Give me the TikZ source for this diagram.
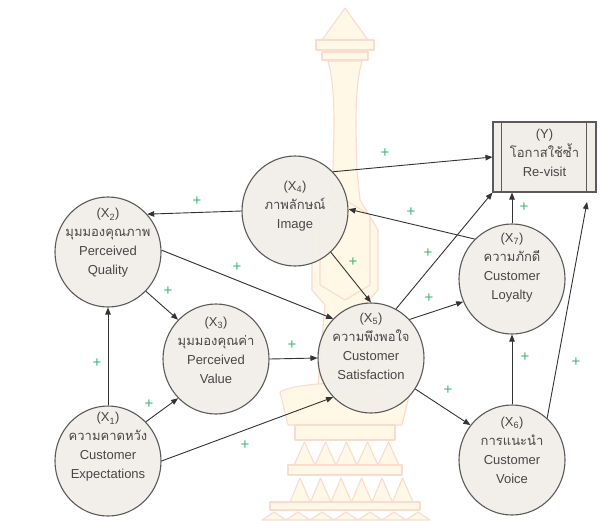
\documentclass[tikz,border=0pt]{standalone}
\usepackage{fontspec}
\setmainfont{Liberation Sans}
\newfontfamily\thaifont[Script=Thai]{Loma}
\usetikzlibrary{arrows.meta,shapes.geometric,calc}
\definecolor{nodefill}{HTML}{F1EEE9}
\definecolor{nodeline}{HTML}{5A5A5A}
\definecolor{txtcol}{HTML}{474747}
\definecolor{plusgreen}{HTML}{3CB878}
\definecolor{wmfill}{HTML}{FFF8E6}
\definecolor{wmline}{HTML}{FADBCF}
\begin{document}
\begin{tikzpicture}[x=1pt,y=-1pt,
  construct/.style={ellipse, draw=nodeline, fill=nodefill, fill opacity=0.9, line width=1.1pt,
    minimum width=106pt, minimum height=110pt, inner sep=0pt},
  lbl/.style={align=center, text=txtcol, inner sep=0pt, font=\fontsize{13}{19}\selectfont},
  conn/.style={draw=black!80, line width=0.9pt, -{Triangle[length=7pt,width=5.5pt]}},
  plus/.style={text=plusgreen, inner sep=0pt, font=\fontsize{15}{15}\selectfont},
  wm/.style={draw=wmline, fill=wmfill, line width=1.1pt, line join=round}
]
\useasboundingbox (0,0) rectangle (601,520);
\fill[white] (0,0) rectangle (601,520);

% watermark (faint tower)
\path[wm] (345,8) -- (368,40) -- (322,40) -- cycle;
\path[wm] (316,40) rectangle (374,50);
\path[wm] (322,52) rectangle (368,60);
\path[wm] (328,61) .. controls (336,90) and (334,130) .. (333,170) -- (330,200)
  -- (312,230) -- (312,290) -- (325,305) -- (318,385) -- (372,385) -- (365,305)
  -- (378,290) -- (378,230) -- (360,200) -- (357,170) .. controls (356,130) and (354,90) .. (362,61) -- cycle;
\path[wm] (320,215) -- (345,200) -- (370,215) -- (370,285) -- (345,300) -- (320,285) -- cycle;
\path[wm] (280,392) .. controls (300,380) and (390,380) .. (410,392) -- (402,425) -- (288,425) -- cycle;
\path[wm] (295,425) rectangle (395,440);
\foreach \i in {0,...,4} {
  \path[wm] ({294+21*\i},465) -- ({304.5+21*\i},442) -- ({315+21*\i},465) -- cycle;
}
\path[wm] (288,465) rectangle (402,475);
\foreach \i in {0,...,5} {
  \path[wm] ({290+20.5*\i},502) -- ({300+20.5*\i},478) -- ({310.5+20.5*\i},502) -- cycle;
}
\path[wm] (270,502) rectangle (420,510);
\foreach \i in {0,...,6} {
  \path[wm] ({262+24*\i},520) -- ({274+24*\i},512) -- ({286+24*\i},520) -- cycle;
}

% constructs
\node[construct] (x2) at (108,252) {};
\node[construct] (x3) at (216,359) {};
\node[construct] (x1) at (108,461) {};
\node[construct] (x4) at (295,211) {};
\node[construct] (x5) at (371,358) {};
\node[construct] (x7) at (512,279) {};
\node[construct] (x6) at (512,460) {};
\node[draw=nodeline, fill=nodefill, line width=1.1pt, minimum width=103pt, minimum height=70pt, inner sep=0pt] (y) at (544.5,157) {};
\draw[draw=nodeline, line width=1.1pt] ([xshift=9pt]y.north west) -- ([xshift=9pt]y.south west);
\draw[draw=nodeline, line width=1.1pt] ([xshift=-10pt]y.north east) -- ([xshift=-10pt]y.south east);

% labels
\node[lbl] (t2) at ([yshift=9pt]x2.center) {(X\textsubscript{2})\\{\thaifont มุมมองคุณภาพ}\\Perceived\\Quality};
\node[lbl] (t3) at ([yshift=9pt]x3.center) {(X\textsubscript{3})\\{\thaifont มุมมองคุณค่า}\\Perceived\\Value};
\node[lbl] (t1) at ([yshift=14pt]x1.center) {(X\textsubscript{1})\\{\thaifont ความคาดหวัง}\\Customer\\Expectations};
\node[lbl] (t4) at ([yshift=5pt]x4.center) {(X\textsubscript{4})\\{\thaifont ภาพลักษณ์}\\Image};
\node[lbl] (t5) at ([yshift=12pt]x5.center) {(X\textsubscript{5})\\{\thaifont ความพึงพอใจ}\\Customer\\Satisfaction};
\node[lbl] (t7) at ([yshift=11pt]x7.center) {(X\textsubscript{7})\\{\thaifont ความภักดี}\\Customer\\Loyalty};
\node[lbl] (t6) at ([yshift=10pt]x6.center) {(X\textsubscript{6})\\{\thaifont การแนะนำ}\\Customer\\Voice};
\node[lbl] (ty) at ([yshift=4pt]y.center) {(Y)\\{\thaifont โอกาสใช้ซ้ำ}\\Re-visit};

% connectors
\coordinate (yarrow) at (587,202);
\draw[conn] (x4.180) -- (x2.44);
\draw[conn] (x2.2) -- (x5.134);
\draw[conn] (x2.-46) -- (x3.134);
\draw[conn] (x1.north) -- (x2.south);
\draw[conn] (x1.46) -- (x3.-134);
\draw[conn] (x1.0) -- (x5.-134);
\draw[conn] (x3.0) -- (x5.180);
\draw[conn] (x4.-49) -- (x5.90);
\draw[conn] (x4.46) -- (y.west);
\draw[conn] (x7.133) -- (x4.2);
\draw[conn] (x5.63) -- (y.south west);
\draw[conn] (x5.45) -- (x7.205);
\draw[conn] (x7.north) -- (x7.north |- y.south);
\draw[conn] (x5.-35) -- (x6.140);
\draw[conn] (x6.north) -- (x7.south);
\draw[conn] (x6.50) -- (yarrow);

% plus signs
\foreach \px/\py [count=\k] in {197/201, 237/267, 168/291, 97/363, 149/404, 245/445, 292/345,
  353/262, 385/153, 411/212, 428/253, 429/298, 524/207, 448/390, 525/357, 576/362} {
  \node[plus] (p\k) at (\px,\py) {+};
}
\end{tikzpicture}
\end{document}
